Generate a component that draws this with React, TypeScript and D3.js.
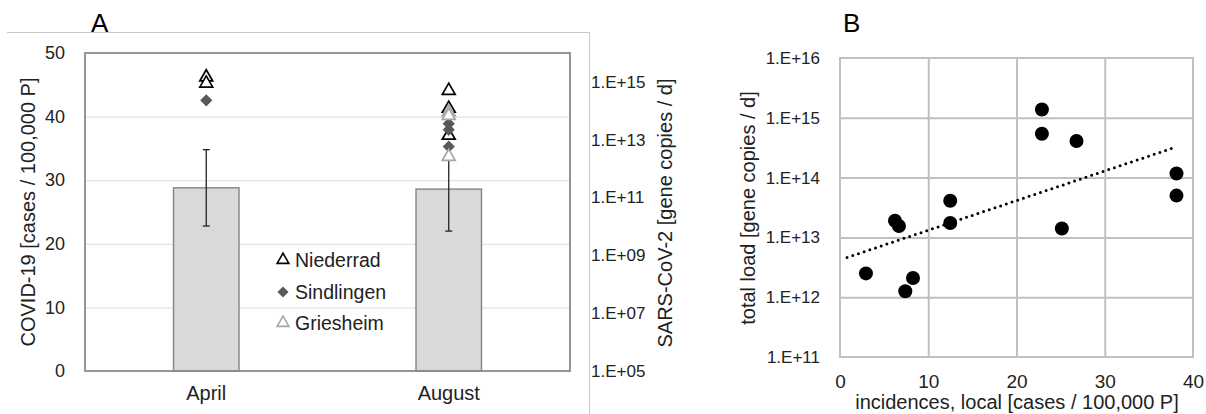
import React, { useEffect, useRef } from 'react';
import * as d3 from 'd3';

// panel A: monthly incidence (bars) and wastewater loads per plant (markers, log axis)
const months = ['April', 'August'];
const meanCases = [28.8, 28.6];
const sdCases = [6.0, 6.6];
const caseTicks = [0, 10, 20, 30, 40, 50];
const loadTicksA = [1e5, 1e7, 1e9, 1e11, 1e13, 1e15];

const niederradMonth = ['April', 'April', 'August', 'August', 'August'];
const niederradLoad = [1.45e15, 8.9e14, 5.0e14, 1.2e14, 1.4e13];
const sindlingenMonth = ['April', 'August', 'August', 'August'];
const sindlingenLoad = [2.3e14, 3.6e13, 2.2e13, 5.8e12];
const griesheimMonth = ['August', 'August', 'August'];
const griesheimLoad = [8.9e13, 6.8e13, 2.6e12];

// panel B: local incidence vs total load
const incidence = [2.94, 6.23, 6.68, 7.4, 8.27, 12.49, 12.49, 22.88, 22.88, 25.14, 26.8, 38.13, 38.13];
const totalLoad = [2.5e12, 1.9e13, 1.55e13, 1.26e12, 2.1e12, 4.1e13, 1.74e13, 1.38e15, 5.4e14, 1.41e13, 4.1e14, 1.17e14, 5.0e13];
const incidenceTicks = [0, 10, 20, 30, 40];
const loadTicksB = [1e11, 1e12, 1e13, 1e14, 1e15, 1e16];
const trendRange = [0.8, 37.9];

const FONT = '"Liberation Sans", Arial, sans-serif';
const TXT = '#222';
const expFmt = (d: number) => `1.E+${String(Math.round(Math.log10(d))).padStart(2, '0')}`;

export default function App() {
  const ref = useRef<SVGSVGElement>(null);

  useEffect(() => {
    if (!ref.current) return;
    const svg = d3.select(ref.current);
    svg.selectAll('*').remove();
    svg.attr('font-family', FONT);

    // outer frame of panel A
    svg.append('path').attr('d', 'M7,32.5H589.5V414').attr('fill', 'none').attr('stroke', '#c8c8c8');

    const a = { left: 85, right: 570, top: 53, bottom: 371 };
    const x = d3.scaleBand().domain(months).range([a.left, a.right]).paddingInner(0.73).paddingOuter(0.365);
    const y = d3.scaleLinear().domain([0, 50]).range([a.bottom, a.top]);
    const yLog = d3.scaleLog().domain([1e5, 1e16]).range([a.bottom, a.top]);

    svg.append('g')
      .attr('transform', `translate(${a.left},0)`)
      .call(d3.axisLeft(y).tickValues(caseTicks.slice(1, -1)).tickSize(-(a.right - a.left)).tickFormat(() => ''))
      .call(g => g.select('.domain').remove())
      .selectAll('line').attr('stroke', '#e2e2e2').attr('stroke-width', 1.3);

    svg.append('g')
      .attr('transform', `translate(${a.left},0)`)
      .call(d3.axisLeft(y).tickValues(caseTicks).tickSize(0).tickPadding(20))
      .call(g => g.select('.domain').remove())
      .attr('font-family', FONT).attr('font-size', 18)
      .selectAll('text').attr('fill', TXT);

    svg.append('g')
      .attr('transform', `translate(${a.right},0)`)
      .call(d3.axisRight(yLog).tickValues(loadTicksA).tickSize(0).tickPadding(21).tickFormat(d => expFmt(+d)))
      .call(g => g.select('.domain').remove())
      .attr('font-family', FONT).attr('font-size', 17)
      .selectAll('text').attr('fill', TXT);

    svg.append('g')
      .attr('transform', `translate(0,${a.bottom})`)
      .call(d3.axisBottom(x).tickSize(0).tickPadding(15))
      .call(g => g.select('.domain').remove())
      .attr('font-family', FONT).attr('font-size', 20)
      .selectAll('text').attr('fill', TXT);

    svg.append('g').selectAll('rect')
      .data(months)
      .join('rect')
      .attr('x', d => x(d)!)
      .attr('width', x.bandwidth())
      .attr('y', (d, i) => y(meanCases[i]))
      .attr('height', (d, i) => a.bottom - y(meanCases[i]))
      .attr('fill', '#d9d9d9')
      .attr('stroke', '#8a8a8a')
      .attr('stroke-width', 1.5);

    svg.append('rect')
      .attr('x', a.left).attr('y', a.top)
      .attr('width', a.right - a.left).attr('height', a.bottom - a.top)
      .attr('fill', 'none').attr('stroke', '#8a8a8a').attr('stroke-width', 1.8);

    const eb = svg.append('g').attr('stroke', TXT).attr('stroke-width', 1.3);
    months.forEach((m, i) => {
      const cx = x(m)! + x.bandwidth() / 2;
      const lo = y(meanCases[i] - sdCases[i]);
      const hi = y(meanCases[i] + sdCases[i]);
      eb.append('line').attr('x1', cx).attr('x2', cx).attr('y1', lo).attr('y2', hi);
      eb.append('line').attr('x1', cx - 3.5).attr('x2', cx + 3.5).attr('y1', lo).attr('y2', lo);
      eb.append('line').attr('x1', cx - 3.5).attr('x2', cx + 3.5).attr('y1', hi).attr('y2', hi);
    });

    const tri = d3.symbol().type(d3.symbolTriangle).size(72)()!;
    const dia = d3.symbol().type(d3.symbolSquare).size(74)()!;
    const triLg = d3.symbol().type(d3.symbolTriangle).size(60)()!;
    const diaLg = d3.symbol().type(d3.symbolSquare).size(62)()!;
    const cxOf = (m: string) => x(m)! + x.bandwidth() / 2;

    const drawSeries = (ms: string[], vals: number[], path: string, fill: string, stroke: string, rot: number) => {
      svg.append('g').selectAll('path')
        .data(vals)
        .join('path')
        .attr('d', path)
        .attr('transform', (d, i) => `translate(${cxOf(ms[i])},${yLog(d)}) rotate(${rot})`)
        .attr('fill', fill)
        .attr('stroke', stroke)
        .attr('stroke-width', stroke === 'none' ? 0 : 1.7);
    };
    drawSeries(niederradMonth, niederradLoad, tri, '#fff', '#000', 0);
    drawSeries(sindlingenMonth, sindlingenLoad, dia, '#595959', 'none', 45);
    drawSeries(griesheimMonth, griesheimLoad, tri, '#fff', '#a6a6a6', 0);

    const legend = [
      { label: 'Niederrad', path: triLg, fill: '#fff', stroke: '#000', rot: 0 },
      { label: 'Sindlingen', path: diaLg, fill: '#595959', stroke: 'none', rot: 45 },
      { label: 'Griesheim', path: triLg, fill: '#fff', stroke: '#a6a6a6', rot: 0 },
    ];
    const lg = svg.append('g').selectAll('g').data(legend).join('g')
      .attr('transform', (d, i) => `translate(283,${[260, 292, 323][i]})`);
    lg.append('path')
      .attr('d', d => d.path)
      .attr('transform', d => `rotate(${d.rot})`)
      .attr('fill', d => d.fill)
      .attr('stroke', d => d.stroke)
      .attr('stroke-width', d => (d.stroke === 'none' ? 0 : 1.6));
    lg.append('text')
      .attr('x', 12).attr('dy', '0.35em')
      .attr('font-size', 19.5).attr('fill', TXT)
      .text(d => d.label);

    svg.append('text')
      .attr('transform', 'translate(35,212) rotate(-90)')
      .attr('text-anchor', 'middle').attr('font-size', 20).attr('fill', TXT)
      .text('COVID-19 [cases / 100,000 P]');
    svg.append('text')
      .attr('transform', 'translate(672,213) rotate(-90)')
      .attr('text-anchor', 'middle').attr('font-size', 20).attr('fill', TXT)
      .text('SARS-CoV-2 [gene copies / d]');
    svg.append('text').attr('x', 91).attr('y', 32).attr('font-size', 26).attr('fill', '#000').text('A');

    // panel B
    const b = { left: 840, right: 1193, top: 58, bottom: 357 };
    const xb = d3.scaleLinear().domain([0, 40]).range([b.left, b.right]);
    const yb = d3.scaleLog().domain([1e11, 1e16]).range([b.bottom, b.top]);

    svg.append('g')
      .attr('transform', `translate(0,${b.bottom})`)
      .call(d3.axisBottom(xb).tickValues(incidenceTicks.slice(1, -1)).tickSize(-(b.bottom - b.top)).tickFormat(() => ''))
      .call(g => g.select('.domain').remove())
      .selectAll('line').attr('stroke', '#c0c0c0').attr('stroke-width', 2);
    svg.append('g')
      .attr('transform', `translate(${b.left},0)`)
      .call(d3.axisLeft(yb).tickValues(loadTicksB.slice(1, -1)).tickSize(-(b.right - b.left)).tickFormat(() => ''))
      .call(g => g.select('.domain').remove())
      .selectAll('line').attr('stroke', '#c0c0c0').attr('stroke-width', 2);
    svg.append('rect')
      .attr('x', b.left).attr('y', b.top)
      .attr('width', b.right - b.left).attr('height', b.bottom - b.top)
      .attr('fill', 'none').attr('stroke', '#c0c0c0').attr('stroke-width', 2);

    svg.append('g')
      .attr('transform', `translate(${b.left},0)`)
      .call(d3.axisLeft(yb).tickValues(loadTicksB).tickSize(0).tickPadding(20).tickFormat(d => expFmt(+d)))
      .call(g => g.select('.domain').remove())
      .attr('font-family', FONT).attr('font-size', 17)
      .selectAll('text').attr('fill', TXT);
    svg.append('g')
      .attr('transform', `translate(0,${b.bottom})`)
      .call(d3.axisBottom(xb).tickValues(incidenceTicks).tickSize(0).tickPadding(18))
      .call(g => g.select('.domain').remove())
      .attr('font-family', FONT).attr('font-size', 19)
      .selectAll('text').attr('fill', TXT);

    // exponential trend: least squares of log10(load) on incidence
    const ly = totalLoad.map(v => Math.log10(v));
    const mx = d3.mean(incidence)!;
    const my = d3.mean(ly)!;
    const slope = d3.sum(incidence, (v, i) => (v - mx) * (ly[i] - my)) / d3.sum(incidence, v => (v - mx) ** 2);
    const trend = trendRange.map(v => [v, Math.pow(10, my + slope * (v - mx))] as [number, number]);
    svg.append('path')
      .attr('d', d3.line<[number, number]>().x(d => xb(d[0])).y(d => yb(d[1]))(trend)!)
      .attr('fill', 'none').attr('stroke', '#000').attr('stroke-width', 3)
      .attr('stroke-linecap', 'round').attr('stroke-dasharray', '0 6');

    svg.append('g').selectAll('circle')
      .data(incidence)
      .join('circle')
      .attr('cx', d => xb(d))
      .attr('cy', (d, i) => yb(totalLoad[i]))
      .attr('r', 7)
      .attr('fill', '#000');

    svg.append('text')
      .attr('transform', 'translate(755,208) rotate(-90)')
      .attr('text-anchor', 'middle').attr('font-size', 20).attr('fill', TXT)
      .text('total load [gene copies / d]');
    svg.append('text')
      .attr('x', 1017).attr('y', 409)
      .attr('text-anchor', 'middle').attr('font-size', 20).attr('fill', TXT)
      .text('incidences, local [cases / 100,000 P]');
    svg.append('text').attr('x', 843).attr('y', 32).attr('font-size', 26).attr('fill', '#000').text('B');
  }, []);

  return (
    <svg
      ref={ref}
      width={1206}
      height={414}
      style={{ position: 'absolute', left: 0, top: 0, background: '#fff' }}
    />
  );
}
